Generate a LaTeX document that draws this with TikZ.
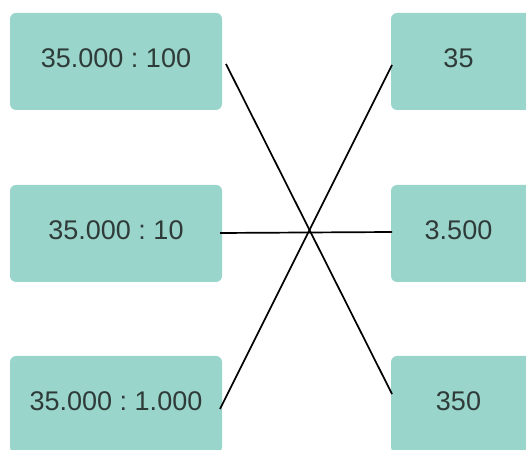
\documentclass[tikz,border=0pt]{standalone}
\usepackage{fontspec}
\setmainfont{Liberation Sans}
\definecolor{boxfill}{HTML}{9AD5CB}
\definecolor{txtcol}{HTML}{2E3B38}
\frenchspacing
\begin{document}
\begin{tikzpicture}[x=1pt,y=1pt,
  box/.style={draw=none,fill=boxfill,rounded corners=6pt,inner sep=0pt,minimum height=97pt},
  lbox/.style={box,minimum width=212pt},
  rbox/.style={box,minimum width=142pt},
  txt/.style={text=txtcol,font=\fontsize{27}{32}\selectfont\frenchspacing,inner sep=0pt},
  conn/.style={black,line width=1.7pt}]
\useasboundingbox (0,0) rectangle (526,449);
\clip (0,0) rectangle (526,449);
% left boxes
\node[lbox] (l1) at (116,387.5) {};
\node[lbox] (l2) at (116,215.5) {};
\node[lbox] (l3) at (116,44.5) {};
% right boxes
\node[rbox] (r1) at (462,387.5) {};
\node[rbox] (r2) at (462,215.5) {};
\node[rbox] (r3) at (462,44.5) {};
% texts
\node[txt] (tl1) at (116,390.5) {35.000 : 100};
\node[txt] (tl2) at (116,218.5) {35.000 : 10};
\node[txt] (tl3) at (116,48) {35.000 : 1.000};
\node[txt] (tr1) at (458.5,390.5) {35};
\node[txt] (tr2) at (458.5,218.5) {3.500};
\node[txt] (tr3) at (458.5,48) {350};
% connector ends
\coordinate (a1) at (226,385);
\coordinate (b1) at (392,55);
\coordinate (a2) at (220,216);
\coordinate (b2) at (392,217);
\coordinate (a3) at (220,40);
\coordinate (b3) at (392,384);
\draw[conn] (a1) -- (b1);
\draw[conn] (a2) -- (b2);
\draw[conn] (a3) -- (b3);
\end{tikzpicture}
\end{document}
